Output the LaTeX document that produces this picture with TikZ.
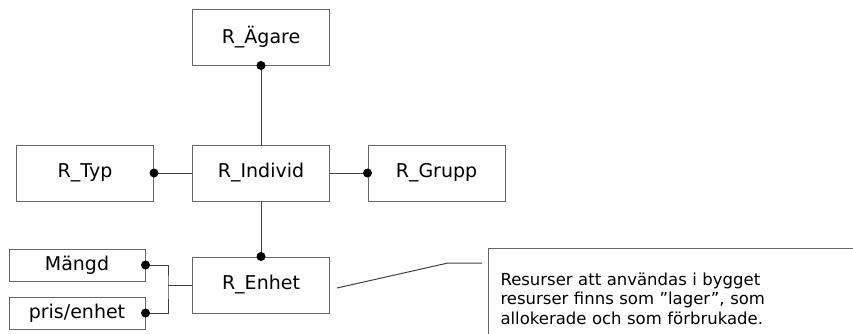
\documentclass[tikz,border=0pt]{standalone}
\usepackage{fontspec}
\setmainfont{DejaVu Sans}
\usetikzlibrary{calc}
\tikzset{ent/.style={draw=black!60, line width=1pt, minimum width=137pt, minimum height=56pt, inner sep=0pt, font=\fontsize{19}{22}\selectfont}}
\tikzset{attr/.style={ent, minimum width=136pt, minimum height=32pt}}
\tikzset{note/.style={draw=black!60, line width=1pt, anchor=north west, align=left, text width=360pt, inner xsep=12pt, inner ysep=24pt, font=\fontsize{16.5}{19.5}\selectfont}}
\tikzset{link/.style={draw=black!75, line width=1pt}}
\newcommand{\blob}[1]{\fill #1 circle (4.5pt);}

\begin{document}
\begin{tikzpicture}[x=1pt,y=-1pt]
		\useasboundingbox (0,0) rectangle (853,333);
		\clip (0,0) rectangle (853,333);
		\node[ent] (ag) at (261,37) {R\_Ägare};
		\node[ent] (ind) at (261,173) {R\_Individ};
		\node[ent] (typ) at (85,173) {R\_Typ};
		\node[ent] (grp) at (436.5,173) {R\_Grupp};
		\node[ent] (enh) at (261,285) {R\_Enhet};
		\node[attr] (mg) at (77,265) {Mängd};
		\node[attr] (pris) at (77,313) {pris/enhet};
		\node[note] (txt) at (488,248) {Resurser att användas i bygget\\resurser finns som ”lager”, som\\allokerade och som förbrukade.};
		
		\coordinate (j) at (168,285);
		\coordinate (n1) at (337,288);
		\coordinate (n2) at (448,263);
		\coordinate (n3) at (482,263);
		
		\draw[link] (ag) -- (ind);
		\draw[link] (typ) -- (ind);
		\draw[link] (ind) -- (grp);
		\draw[link] (ind) -- (enh);
		\draw[link] (mg.east) -| (j) |- (pris.east);
		\draw[link] (j) -- (enh);
		\draw[link] (n1) -- (n2) -- (n3);
		
		\blob{(ag.south)}
		\blob{(typ.east)}
		\blob{(grp.west)}
		\blob{(enh.north)}
		\blob{(mg.east)}
		\blob{(pris.east)}
		\end{tikzpicture}
\end{document}
